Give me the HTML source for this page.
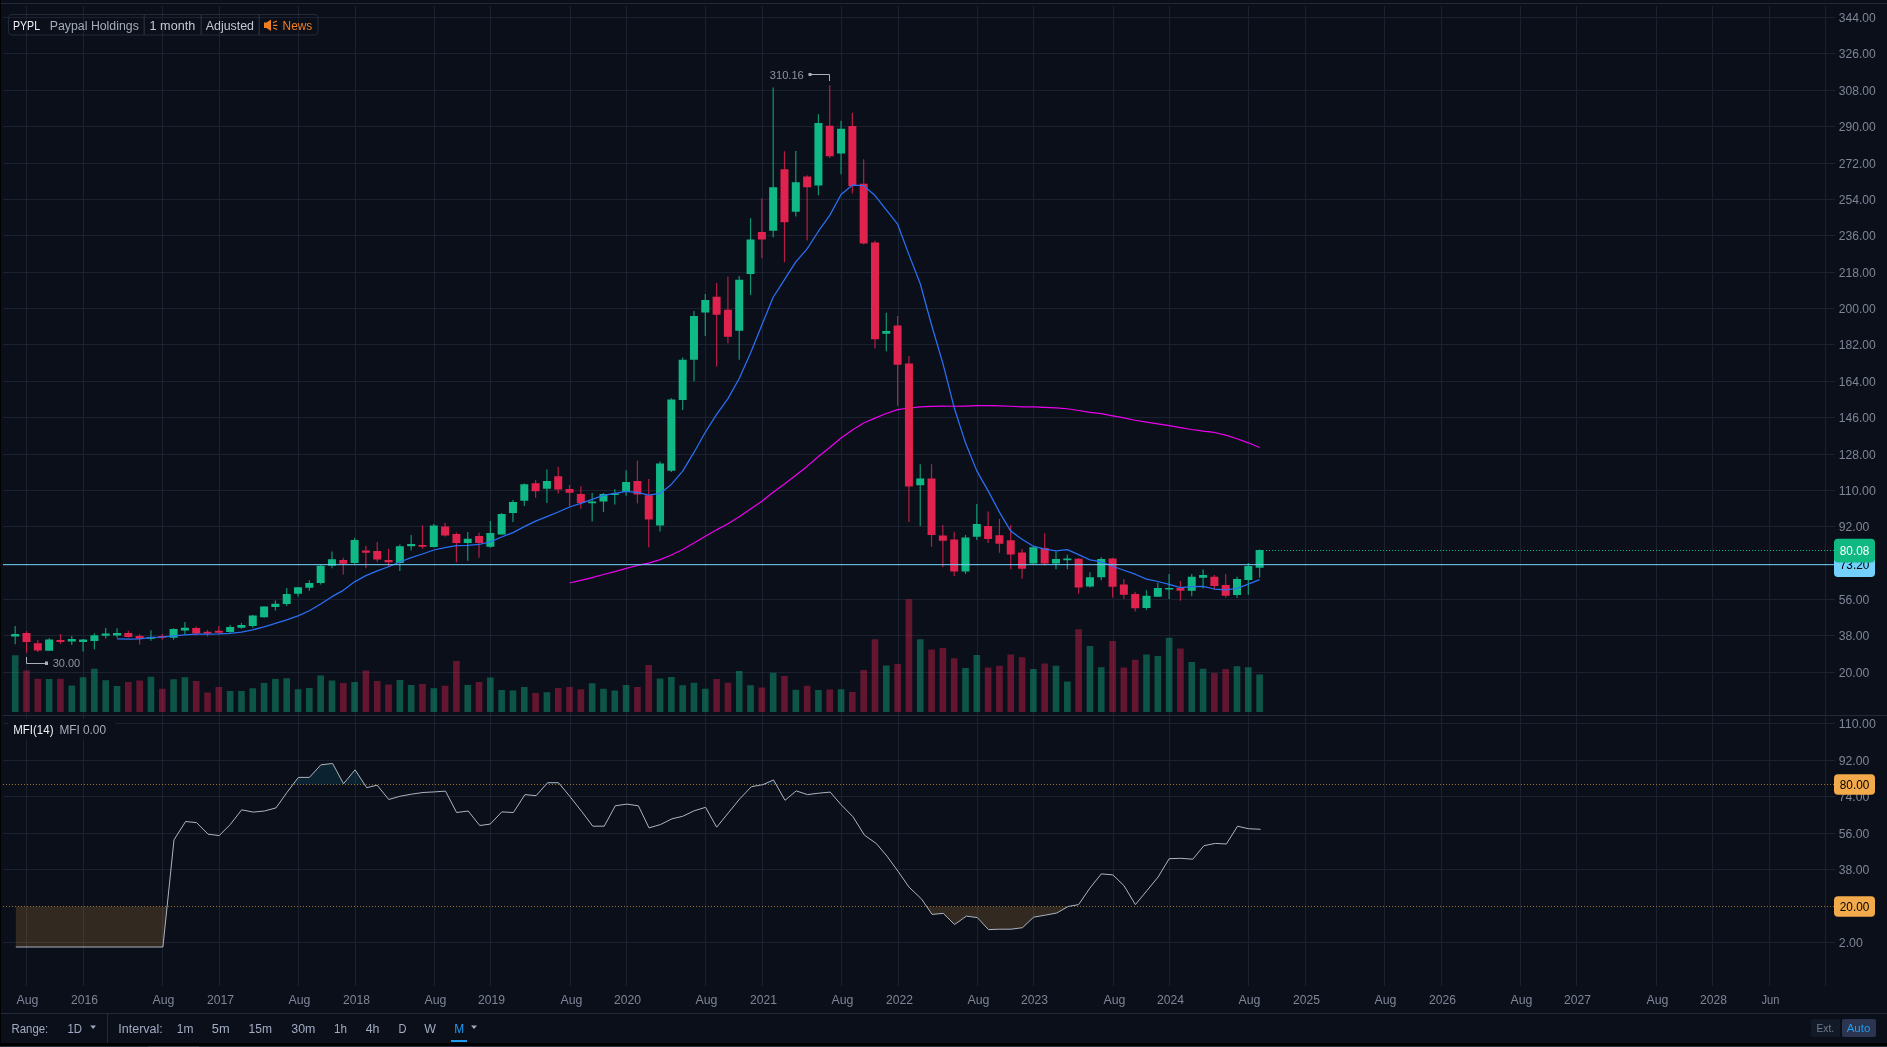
<!DOCTYPE html><html><head><meta charset="utf-8"><style>html,body{margin:0;padding:0;background:#0b0f1a;width:1887px;height:1047px;overflow:hidden}svg{display:block;will-change:transform}text{font-family:"Liberation Sans",sans-serif}</style></head><body>
<svg width="1887" height="1047" viewBox="0 0 1887 1047">
<rect x="0" y="0" width="1887" height="1047" fill="#0b0f1a"/>
<rect x="0" y="0" width="1" height="1047" fill="#000"/>
<rect x="1" y="3" width="1886" height="1" fill="#222a3a"/>
<path d="M3 17.5H1835 M3 53.5H1835 M3 90.5H1835 M3 126.5H1835 M3 163.5H1835 M3 199.5H1835 M3 235.5H1835 M3 272.5H1835 M3 308.5H1835 M3 344.5H1835 M3 381.5H1835 M3 417.5H1835 M3 454.5H1835 M3 490.5H1835 M3 526.5H1835 M3 599.5H1835 M3 635.5H1835 M3 672.5H1835 M3 723.5H1835 M3 760.5H1835 M3 796.5H1835 M3 833.5H1835 M3 869.5H1835 M3 942.5H1835 M26.5 6V986 M83.5 6V986 M162.5 6V986 M219.5 6V986 M298.5 6V986 M355.5 6V986 M434.5 6V986 M490.5 6V986 M570.5 6V986 M626.5 6V986 M705.5 6V986 M762.5 6V986 M841.5 6V986 M898.5 6V986 M977.5 6V986 M1033.5 6V986 M1113.5 6V986 M1169.5 6V986 M1248.5 6V986 M1305.5 6V986 M1384.5 6V986 M1441.5 6V986 M1520.5 6V986 M1576.5 6V986 M1656.5 6V986 M1712.5 6V986 M1769.5 6V986" stroke="#1b2130" stroke-width="1" fill="none"/>
<rect x="1825" y="6" width="1" height="980" fill="#1b2130"/>
<rect x="3" y="715" width="1884" height="1" fill="#222a3a"/>
<rect x="1" y="1013" width="1886" height="1" fill="#222a3a"/>
<rect x="107" y="1013" width="1" height="30" fill="#222a3a"/>
<rect x="0" y="1043" width="1887" height="3" fill="#000"/>
<rect x="0" y="1046" width="1887" height="1" fill="#283045"/>
<rect x="148" y="1046" width="51" height="1" fill="#3a4358"/>
<path d="M11.90 655.3H18.50V712H11.90Z M45.84 679.0H52.44V712H45.84Z M68.47 685.4H75.06V712H68.47Z M79.78 677.3H86.38V712H79.78Z M91.09 668.8H97.69V712H91.09Z M102.40 680.2H109.00V712H102.40Z M113.72 686.1H120.32V712H113.72Z M147.66 676.8H154.26V712H147.66Z M170.28 679.3H176.88V712H170.28Z M181.59 677.3H188.20V712H181.59Z M226.85 690.9H233.45V712H226.85Z M238.16 690.9H244.76V712H238.16Z M249.47 688.3H256.07V712H249.47Z M260.79 682.9H267.39V712H260.79Z M272.10 679.0H278.70V712H272.10Z M283.41 678.2H290.01V712H283.41Z M294.72 689.2H301.32V712H294.72Z M306.04 688.0H312.64V712H306.04Z M317.35 675.6H323.95V712H317.35Z M328.66 680.4H335.26V712H328.66Z M351.29 681.9H357.89V712H351.29Z M396.54 680.0H403.14V712H396.54Z M407.86 684.9H414.46V712H407.86Z M430.48 688.3H437.08V712H430.48Z M464.42 684.9H471.02V712H464.42Z M487.05 677.6H493.65V712H487.05Z M498.36 690.0H504.96V712H498.36Z M509.67 690.4H516.27V712H509.67Z M520.99 687.0H527.59V712H520.99Z M543.61 692.2H550.21V712H543.61Z M588.86 683.2H595.46V712H588.86Z M600.18 688.8H606.78V712H600.18Z M611.49 690.4H618.09V712H611.49Z M622.80 684.9H629.40V712H622.80Z M656.74 678.5H663.34V712H656.74Z M668.05 677.0H674.65V712H668.05Z M679.37 685.3H685.97V712H679.37Z M690.68 682.8H697.28V712H690.68Z M701.99 688.7H708.59V712H701.99Z M735.93 671.1H742.53V712H735.93Z M747.25 685.3H753.85V712H747.25Z M769.87 672.8H776.47V712H769.87Z M792.50 689.7H799.10V712H792.50Z M815.12 690.0H821.72V712H815.12Z M837.75 689.2H844.35V712H837.75Z M883.00 665.5H889.60V712H883.00Z M916.94 639.2H923.54V712H916.94Z M962.19 667.9H968.79V712H962.19Z M973.51 654.9H980.11V712H973.51Z M1030.07 669.0H1036.67V712H1030.07Z M1052.70 665.7H1059.30V712H1052.70Z M1064.01 681.4H1070.61V712H1064.01Z M1086.64 646.0H1093.24V712H1086.64Z M1097.95 667.2H1104.55V712H1097.95Z M1143.20 654.6H1149.80V712H1143.20Z M1154.51 655.9H1161.11V712H1154.51Z M1165.83 637.7H1172.43V712H1165.83Z M1188.45 662.0H1195.05V712H1188.45Z M1199.77 668.8H1206.37V712H1199.77Z M1233.70 666.2H1240.30V712H1233.70Z M1245.02 667.2H1251.62V712H1245.02Z M1256.33 674.4H1262.93V712H1256.33Z" fill="rgba(16,184,134,0.42)"/>
<path d="M23.21 670.5H29.81V712H23.21Z M34.53 678.7H41.13V712H34.53Z M57.15 678.7H63.75V712H57.15Z M125.03 682.1H131.63V712H125.03Z M136.34 680.4H142.94V712H136.34Z M158.97 688.7H165.57V712H158.97Z M192.91 681.0H199.51V712H192.91Z M204.22 692.6H210.82V712H204.22Z M215.53 687.0H222.13V712H215.53Z M339.98 682.9H346.58V712H339.98Z M362.60 670.5H369.20V712H362.60Z M373.92 681.0H380.52V712H373.92Z M385.23 684.4H391.83V712H385.23Z M419.17 684.1H425.77V712H419.17Z M441.79 685.8H448.39V712H441.79Z M453.11 660.9H459.71V712H453.11Z M475.73 682.1H482.33V712H475.73Z M532.30 693.1H538.90V712H532.30Z M554.92 688.0H561.52V712H554.92Z M566.24 687.0H572.84V712H566.24Z M577.55 689.2H584.15V712H577.55Z M634.12 687.0H640.72V712H634.12Z M645.43 665.0H652.03V712H645.43Z M713.31 679.0H719.91V712H713.31Z M724.62 682.8H731.22V712H724.62Z M758.56 687.5H765.16V712H758.56Z M781.18 676.0H787.78V712H781.18Z M803.81 685.8H810.41V712H803.81Z M826.44 689.5H833.04V712H826.44Z M849.06 692.1H855.66V712H849.06Z M860.38 670.0H866.98V712H860.38Z M871.69 639.2H878.29V712H871.69Z M894.31 664.1H900.91V712H894.31Z M905.63 599.3H912.23V712H905.63Z M928.25 649.4H934.85V712H928.25Z M939.57 648.1H946.17V712H939.57Z M950.88 658.3H957.48V712H950.88Z M984.82 667.4H991.42V712H984.82Z M996.13 665.7H1002.73V712H996.13Z M1007.44 654.4H1014.04V712H1007.44Z M1018.76 657.3H1025.36V712H1018.76Z M1041.38 663.5H1047.98V712H1041.38Z M1075.32 629.3H1081.92V712H1075.32Z M1109.26 641.0H1115.86V712H1109.26Z M1120.57 667.5H1127.17V712H1120.57Z M1131.89 659.7H1138.49V712H1131.89Z M1177.14 648.4H1183.74V712H1177.14Z M1211.08 673.1H1217.68V712H1211.08Z M1222.39 669.0H1228.99V712H1222.39Z" fill="rgba(224,34,78,0.42)"/>
<polyline points="569.54,583.01 580.85,580.39 592.16,577.59 603.48,574.46 614.79,571.55 626.10,568.35 637.42,565.46 648.73,563.06 660.04,559.63 671.35,554.95 682.67,549.48 693.98,543.06 705.29,536.29 716.61,529.85 727.92,523.83 739.23,516.85 750.55,509.08 761.86,501.20 773.17,492.28 784.48,484.07 795.80,475.17 807.11,466.42 818.42,456.57 829.74,447.56 841.05,438.07 852.36,429.91 863.68,423.03 874.99,418.15 886.30,413.46 897.61,409.57 908.93,408.03 920.24,406.80 931.55,406.45 942.87,406.07 954.18,406.26 965.49,406.08 976.81,405.68 988.12,405.53 999.43,405.89 1010.74,406.27 1022.06,406.78 1033.37,406.95 1044.68,407.36 1056.00,407.88 1067.31,408.77 1078.62,410.48 1089.94,412.34 1101.25,413.70 1112.56,415.81 1123.87,417.91 1135.19,420.22 1146.50,422.08 1157.81,423.80 1169.13,425.68 1180.44,427.63 1191.75,429.52 1203.07,431.13 1214.38,432.46 1225.69,435.10 1237.00,438.70 1248.32,442.82 1259.63,447.50" fill="none" stroke="#ee00f0" stroke-width="1.2" stroke-linejoin="round"/>
<path d="M14.60 626.0H15.80V644.3H14.60Z M48.54 638.2H49.74V650.8H48.54Z M71.17 635.9H72.36V645.1H71.17Z M82.48 639.0H83.68V651.6H82.48Z M93.79 633.2H94.99V649.3H93.79Z M105.10 627.9H106.30V638.6H105.10Z M116.42 628.3H117.62V637.8H116.42Z M150.36 630.2H151.56V640.7H150.36Z M172.98 628.3H174.18V639.8H172.98Z M184.30 622.1H185.50V634.5H184.30Z M229.55 624.9H230.75V633.5H229.55Z M240.86 623.0H242.06V628.8H240.86Z M252.17 614.9H253.37V627.8H252.17Z M263.49 606.3H264.69V617.8H263.49Z M274.80 600.6H276.00V610.6H274.80Z M286.11 588.0H287.31V606.0H286.11Z M297.42 586.9H298.62V596.4H297.42Z M308.74 580.2H309.94V590.7H308.74Z M320.05 564.9H321.25V584.5H320.05Z M331.36 551.5H332.56V568.2H331.36Z M353.99 537.7H355.19V563.9H353.99Z M399.24 544.4H400.44V571.1H399.24Z M410.56 535.1H411.76V550.6H410.56Z M433.18 524.0H434.38V547.4H433.18Z M467.12 531.9H468.32V560.8H467.12Z M489.75 521.0H490.95V547.7H489.75Z M501.06 513.0H502.26V534.8H501.06Z M512.37 500.1H513.57V522.1H512.37Z M523.69 483.4H524.89V505.9H523.69Z M546.31 469.6H547.51V503.0H546.31Z M591.56 493.1H592.76V521.4H591.56Z M602.88 493.1H604.08V512.0H602.88Z M614.19 489.2H615.39V504.6H614.19Z M625.50 470.3H626.70V495.7H625.50Z M659.44 461.5H660.64V531.4H659.44Z M670.75 398.3H671.95V471.9H670.75Z M682.07 357.6H683.27V409.9H682.07Z M693.38 311.1H694.58V381.2H693.38Z M704.69 293.9H705.89V336.1H704.69Z M738.63 275.9H739.83V359.8H738.63Z M749.95 218.2H751.15V295.0H749.95Z M772.57 87.5H773.77V237.2H772.57Z M795.20 151.0H796.40V216.6H795.20Z M817.82 114.3H819.02V195.2H817.82Z M840.45 120.7H841.65V174.2H840.45Z M885.70 312.8H886.90V351.2H885.70Z M919.64 464.2H920.84V526.3H919.64Z M964.89 535.0H966.09V574.0H964.89Z M976.21 504.0H977.41V540.0H976.21Z M1032.77 546.4H1033.97V563.9H1032.77Z M1055.40 551.6H1056.60V569.3H1055.40Z M1066.71 554.8H1067.91V569.3H1066.71Z M1089.34 572.2H1090.54V587.6H1089.34Z M1100.65 557.3H1101.85V580.2H1100.65Z M1145.90 590.2H1147.10V609.7H1145.90Z M1157.21 582.7H1158.41V597.1H1157.21Z M1168.53 574.1H1169.73V598.9H1168.53Z M1191.15 574.1H1192.35V596.2H1191.15Z M1202.47 569.2H1203.66V588.4H1202.47Z M1236.40 576.8H1237.60V597.7H1236.40Z M1247.72 562.9H1248.92V594.7H1247.72Z M1259.03 549.4H1260.23V577.6H1259.03Z" fill="#10b886" fill-opacity="0.8"/>
<path d="M11.20 634.0H19.20V636.5H11.20Z M45.14 639.4H53.14V650.8H45.14Z M67.77 639.0H75.77V641.6H67.77Z M79.08 639.4H87.08V641.9H79.08Z M90.39 635.2H98.39V640.9H90.39Z M101.70 633.6H109.70V635.8H101.70Z M113.02 632.9H121.02V635.5H113.02Z M146.96 636.9H154.96V638.8H146.96Z M169.58 629.0H177.58V637.8H169.58Z M180.90 627.8H188.90V630.5H180.90Z M226.15 626.9H234.15V632.1H226.15Z M237.46 624.9H245.46V627.8H237.46Z M248.77 615.4H256.77V625.9H248.77Z M260.09 606.6H268.09V617.3H260.09Z M271.40 603.7H279.40V607.0H271.40Z M282.71 594.0H290.71V603.9H282.71Z M294.02 587.3H302.02V593.7H294.02Z M305.34 583.0H313.34V587.8H305.34Z M316.65 565.7H324.65V583.0H316.65Z M327.96 559.2H335.96V565.8H327.96Z M350.59 539.9H358.59V563.0H350.59Z M395.84 546.3H403.84V563.0H395.84Z M407.16 544.1H415.16V546.3H407.16Z M429.78 525.5H437.78V546.9H429.78Z M463.72 538.8H471.72V543.1H463.72Z M486.35 533.1H494.35V546.8H486.35Z M497.66 514.0H505.66V534.5H497.66Z M508.97 502.1H516.97V513.0H508.97Z M520.29 484.2H528.29V500.8H520.29Z M542.91 481.0H550.91V488.7H542.91Z M588.16 501.4H596.16V503.2H588.16Z M599.48 494.1H607.48V501.5H599.48Z M610.79 493.4H618.79V495.1H610.79Z M622.10 482.0H630.10V491.5H622.10Z M656.04 463.6H664.04V525.6H656.04Z M667.35 399.4H675.35V470.8H667.35Z M678.67 359.8H686.67V400.0H678.67Z M689.98 315.9H697.98V359.8H689.98Z M701.29 300.1H709.29V312.6H701.29Z M735.23 279.7H743.23V330.8H735.23Z M746.55 239.5H754.55V273.9H746.55Z M769.17 187.2H777.17V230.8H769.17Z M791.80 182.2H799.80V211.7H791.80Z M814.42 123.0H822.42V185.4H814.42Z M837.05 128.8H845.05V153.5H837.05Z M882.30 331.0H890.30V333.7H882.30Z M916.24 478.6H924.24V485.3H916.24Z M961.49 537.5H969.49V571.6H961.49Z M972.81 523.9H980.81V536.8H972.81Z M1029.37 547.2H1037.37V563.6H1029.37Z M1052.00 559.0H1060.00V563.6H1052.00Z M1063.31 558.5H1071.31V560.3H1063.31Z M1085.94 577.3H1093.94V586.5H1085.94Z M1097.25 559.0H1105.25V577.3H1097.25Z M1142.50 595.8H1150.50V607.9H1142.50Z M1153.81 588.1H1161.81V596.7H1153.81Z M1165.13 588.1H1173.13V589.6H1165.13Z M1187.75 576.8H1195.75V590.8H1187.75Z M1199.07 575.0H1207.07V577.7H1199.07Z M1233.00 579.1H1241.00V594.9H1233.00Z M1244.32 566.0H1252.32V580.0H1244.32Z M1255.63 550.0H1263.63V567.8H1255.63Z" fill="#10b886"/>
<path d="M25.91 631.3H27.11V652.7H25.91Z M37.23 640.1H38.43V652.0H37.23Z M59.85 634.0H61.05V643.9H59.85Z M127.73 630.7H128.93V637.6H127.73Z M139.04 634.0H140.24V644.5H139.04Z M161.67 634.0H162.87V639.8H161.67Z M195.61 626.4H196.81V635.5H195.61Z M206.92 629.7H208.12V636.4H206.92Z M218.23 625.9H219.43V634.5H218.23Z M342.68 557.7H343.88V574.4H342.68Z M365.30 545.8H366.50V568.2H365.30Z M376.62 542.0H377.82V562.0H376.62Z M387.93 548.7H389.13V566.3H387.93Z M421.87 525.3H423.07V548.7H421.87Z M444.49 522.8H445.69V536.4H444.49Z M455.81 532.5H457.01V562.3H455.81Z M478.43 532.8H479.63V557.7H478.43Z M535.00 480.1H536.20V497.8H535.00Z M557.62 466.7H558.82V493.5H557.62Z M568.94 485.0H570.14V506.4H568.94Z M580.25 486.2H581.45V508.8H580.25Z M636.82 460.5H638.02V503.6H636.82Z M648.13 479.1H649.33V547.2H648.13Z M716.01 283.0H717.21V366.4H716.01Z M727.32 276.4H728.52V343.4H727.32Z M761.26 198.2H762.46V258.3H761.26Z M783.88 151.2H785.08V262.2H783.88Z M806.51 175.3H807.71V240.6H806.51Z M829.14 85.2H830.34V158.1H829.14Z M851.76 112.7H852.96V193.6H851.76Z M863.08 159.3H864.28V244.5H863.08Z M874.39 240.7H875.59V348.4H874.39Z M897.01 316.1H898.21V405.8H897.01Z M908.33 356.1H909.53V521.9H908.33Z M930.95 464.2H932.15V546.7H930.95Z M942.27 525.1H943.47V567.3H942.27Z M953.58 531.8H954.78V576.0H953.58Z M987.52 511.5H988.72V543.0H987.52Z M998.83 518.9H1000.03V552.7H998.83Z M1010.14 525.0H1011.34V569.3H1010.14Z M1021.46 549.0H1022.66V578.8H1021.46Z M1044.08 533.2H1045.28V565.5H1044.08Z M1078.02 557.9H1079.22V593.7H1078.02Z M1111.96 557.9H1113.16V597.4H1111.96Z M1123.27 579.1H1124.47V598.9H1123.27Z M1134.59 591.7H1135.79V611.5H1134.59Z M1179.84 580.9H1181.04V600.7H1179.84Z M1213.78 575.0H1214.98V589.9H1213.78Z M1225.09 574.1H1226.29V597.4H1225.09Z" fill="#e0224e" fill-opacity="0.8"/>
<path d="M22.51 632.9H30.51V642.0H22.51Z M33.83 643.2H41.83V650.4H33.83Z M56.45 640.1H64.45V642.0H56.45Z M124.33 633.1H132.33V636.9H124.33Z M135.64 635.9H143.64V638.8H135.64Z M158.27 635.9H166.27V637.6H158.27Z M192.21 628.0H200.21V633.5H192.21Z M203.52 631.8H211.52V633.4H203.52Z M214.83 630.7H222.83V632.8H214.83Z M339.28 560.1H347.28V563.7H339.28Z M361.90 550.4H369.90V552.7H361.90Z M373.22 551.0H381.22V559.6H373.22Z M384.53 560.1H392.53V562.2H384.53Z M418.47 545.0H426.47V546.7H418.47Z M441.09 526.4H449.09V535.5H441.09Z M452.41 533.9H460.41V543.1H452.41Z M475.03 535.9H483.03V543.1H475.03Z M531.60 483.2H539.60V491.3H531.60Z M554.22 476.3H562.22V489.6H554.22Z M565.54 489.0H573.54V492.8H565.54Z M576.85 494.1H584.85V503.0H576.85Z M633.42 481.0H641.42V494.6H633.42Z M644.73 495.2H652.73V519.6H644.73Z M712.61 296.8H720.61V314.8H712.61Z M723.92 309.8H731.92V336.8H723.92Z M757.86 231.9H765.86V239.5H757.86Z M780.48 169.3H788.48V222.3H780.48Z M803.11 176.4H811.11V187.2H803.11Z M825.74 125.8H833.74V156.3H825.74Z M848.36 126.0H856.36V186.1H848.36Z M859.68 183.8H867.68V243.4H859.68Z M870.99 242.5H878.99V339.2H870.99Z M893.61 325.5H901.61V364.8H893.61Z M904.93 363.6H912.93V486.6H904.93Z M927.55 478.4H935.55V535.0H927.55Z M938.87 535.5H946.87V540.7H938.87Z M950.18 539.5H958.18V571.6H950.18Z M984.12 526.1H992.12V539.0H984.12Z M995.43 535.3H1003.43V543.8H995.43Z M1006.74 540.3H1014.74V554.4H1006.74Z M1018.06 552.5H1026.06V568.7H1018.06Z M1040.68 548.1H1048.68V563.6H1040.68Z M1074.62 558.7H1082.62V587.6H1074.62Z M1108.56 558.4H1116.56V586.7H1108.56Z M1119.87 584.5H1127.87V594.7H1119.87Z M1131.19 594.0H1139.19V608.2H1131.19Z M1176.44 588.1H1184.44V590.8H1176.44Z M1210.38 576.7H1218.38V585.9H1210.38Z M1221.69 585.0H1229.69V595.8H1221.69Z" fill="#e0224e"/>
<polyline points="117.02,638.79 128.33,639.08 139.64,638.76 150.96,637.41 162.27,637.23 173.58,635.93 184.90,634.81 196.21,634.22 207.52,634.04 218.83,633.96 230.15,633.36 241.46,632.16 252.77,629.82 264.09,626.79 275.40,623.40 286.71,619.90 298.02,615.85 309.34,610.80 320.65,604.03 331.96,596.67 343.28,590.35 354.59,581.85 365.90,575.58 377.22,570.88 388.53,566.73 399.84,561.96 411.16,557.64 422.47,554.01 433.78,549.99 445.09,547.62 456.41,545.56 467.72,545.45 479.03,544.49 490.35,541.84 501.66,537.02 512.97,532.60 524.29,526.61 535.60,521.07 546.91,516.62 558.22,512.03 569.54,507.00 580.85,503.42 592.16,499.29 603.48,495.39 614.79,493.35 626.10,491.34 637.42,492.38 648.73,495.21 660.04,493.47 671.35,484.45 682.67,471.15 693.98,452.44 705.29,432.27 716.61,414.34 727.92,398.66 739.23,378.43 750.55,352.92 761.86,324.91 773.17,297.27 784.48,279.56 795.80,261.80 807.11,248.93 818.42,231.22 829.74,215.37 841.05,194.57 852.36,185.21 863.68,185.60 874.99,195.57 886.30,209.95 897.61,224.20 908.93,254.64 920.24,283.78 931.55,324.98 942.87,363.42 954.18,407.70 965.49,442.84 976.81,470.89 988.12,490.87 999.43,512.15 1010.74,531.11 1022.06,539.32 1033.37,546.18 1044.68,549.04 1056.00,550.87 1067.31,549.58 1078.62,554.59 1089.94,559.93 1101.25,561.93 1112.56,566.22 1123.87,570.25 1135.19,574.20 1146.50,579.06 1157.81,581.51 1169.13,584.42 1180.44,587.63 1191.75,586.55 1203.07,586.32 1214.38,589.01 1225.69,589.92 1237.00,588.36 1248.32,584.14 1259.63,579.56" fill="none" stroke="#2a70f5" stroke-width="1.25" stroke-linejoin="round"/>
<rect x="3" y="564" width="1831" height="1.2" fill="#72d2fd" opacity="0.85"/>
<line x1="1266" y1="550.5" x2="1834" y2="550.5" stroke="#10b886" stroke-width="1" stroke-dasharray="1 2"/>
<path d="M26.5 657V663.5H46" stroke="#a9afbb" stroke-width="1" fill="none"/><rect x="45" y="661.5" width="3" height="3.5" fill="#a9afbb"/>
<text x="52.7" y="667" font-size="11" fill="#8c93a1" textLength="27.5" lengthAdjust="spacingAndGlyphs">30.00</text>
<path d="M810 74.5H829.5V81" stroke="#a9afbb" stroke-width="1" fill="none"/><rect x="808.5" y="73" width="3" height="3" fill="#a9afbb"/>
<text x="769.8" y="79.3" font-size="11" fill="#8c93a1" textLength="34" lengthAdjust="spacingAndGlyphs">310.16</text>
<polygon points="15.80,906.50 15.80,947.00 162.90,947.00 167.09,906.50" fill="rgba(242,170,74,0.17)"/>
<polygon points="926.68,906.50 932.10,914.40 943.30,913.40 954.60,924.50 966.40,916.10 977.30,917.60 988.50,929.60 999.80,929.20 1010.90,929.20 1022.50,927.70 1033.60,917.20 1045.60,915.10 1056.80,913.00 1068.10,906.50" fill="rgba(242,170,74,0.17)"/>
<polygon points="292.99,784.50 298.40,777.40 309.40,777.40 320.90,764.80 332.60,763.50 343.50,783.70 355.10,769.80 364.63,784.50" fill="rgba(14,165,200,0.13)"/>
<polygon points="546.01,784.50 547.60,782.70 558.50,782.70 559.99,784.50" fill="rgba(14,165,200,0.13)"/>
<polygon points="763.22,784.50 773.50,779.90 776.09,784.50" fill="rgba(14,165,200,0.13)"/>
<line x1="3" y1="784.5" x2="1834" y2="784.5" stroke="#9a7235" stroke-width="1" stroke-dasharray="1 2"/>
<line x1="3" y1="906.5" x2="1834" y2="906.5" stroke="#9a7235" stroke-width="1" stroke-dasharray="1 2"/>
<polyline points="15.80,947.00 162.90,947.00 174.00,839.80 185.60,821.50 196.50,822.60 208.10,834.20 219.20,835.60 230.10,824.70 241.70,809.80 253.30,812.10 264.40,811.00 276.00,807.90 286.90,792.50 298.40,777.40 309.40,777.40 320.90,764.80 332.60,763.50 343.50,783.70 355.10,769.80 366.70,787.70 377.20,785.20 388.70,799.50 399.90,796.30 411.40,794.20 423.00,792.50 434.50,791.90 445.50,791.10 456.60,812.50 468.20,811.00 479.70,825.50 490.20,824.10 501.80,811.90 513.40,812.50 524.90,794.60 536.10,795.70 547.60,782.70 558.50,782.70 570.10,796.70 581.70,811.50 592.80,826.20 604.20,826.20 615.30,805.80 626.90,804.10 638.40,805.80 649.00,827.90 660.60,824.50 672.00,818.80 682.70,816.30 694.20,810.80 705.60,807.30 716.70,827.20 728.30,812.90 739.80,798.80 751.40,786.70 763.00,784.60 773.50,779.90 785.00,800.30 796.20,790.90 807.50,794.60 818.60,793.20 830.20,792.10 841.10,804.70 852.90,816.70 864.50,835.20 876.40,843.60 887.00,856.20 898.10,871.40 909.00,887.10 921.60,899.10 932.10,914.40 943.30,913.40 954.60,924.50 966.40,916.10 977.30,917.60 988.50,929.60 999.80,929.20 1010.90,929.20 1022.50,927.70 1033.60,917.20 1045.60,915.10 1056.80,913.00 1068.10,906.50 1078.60,904.60 1089.80,888.20 1101.30,873.90 1112.90,874.90 1124.00,885.70 1135.40,904.60 1146.90,890.70 1158.10,877.00 1169.20,858.70 1180.80,858.30 1192.80,859.20 1203.90,845.70 1215.40,843.40 1226.40,844.00 1237.50,826.20 1248.40,828.70 1260.60,829.30" fill="none" stroke="#aeb3bf" stroke-width="1" stroke-linejoin="round"/>
<text x="1838.8" y="22" font-size="12" fill="#7d8596" textLength="37" lengthAdjust="spacingAndGlyphs">344.00</text>
<text x="1838.8" y="58" font-size="12" fill="#7d8596" textLength="37" lengthAdjust="spacingAndGlyphs">326.00</text>
<text x="1838.8" y="95" font-size="12" fill="#7d8596" textLength="37" lengthAdjust="spacingAndGlyphs">308.00</text>
<text x="1838.8" y="131" font-size="12" fill="#7d8596" textLength="37" lengthAdjust="spacingAndGlyphs">290.00</text>
<text x="1838.8" y="168" font-size="12" fill="#7d8596" textLength="37" lengthAdjust="spacingAndGlyphs">272.00</text>
<text x="1838.8" y="204" font-size="12" fill="#7d8596" textLength="37" lengthAdjust="spacingAndGlyphs">254.00</text>
<text x="1838.8" y="240" font-size="12" fill="#7d8596" textLength="37" lengthAdjust="spacingAndGlyphs">236.00</text>
<text x="1838.8" y="277" font-size="12" fill="#7d8596" textLength="37" lengthAdjust="spacingAndGlyphs">218.00</text>
<text x="1838.8" y="313" font-size="12" fill="#7d8596" textLength="37" lengthAdjust="spacingAndGlyphs">200.00</text>
<text x="1838.8" y="349" font-size="12" fill="#7d8596" textLength="37" lengthAdjust="spacingAndGlyphs">182.00</text>
<text x="1838.8" y="386" font-size="12" fill="#7d8596" textLength="37" lengthAdjust="spacingAndGlyphs">164.00</text>
<text x="1838.8" y="422" font-size="12" fill="#7d8596" textLength="37" lengthAdjust="spacingAndGlyphs">146.00</text>
<text x="1838.8" y="459" font-size="12" fill="#7d8596" textLength="37" lengthAdjust="spacingAndGlyphs">128.00</text>
<text x="1838.8" y="495" font-size="12" fill="#7d8596" textLength="37" lengthAdjust="spacingAndGlyphs">110.00</text>
<text x="1838.8" y="531" font-size="12" fill="#7d8596" textLength="30.5" lengthAdjust="spacingAndGlyphs">92.00</text>
<text x="1838.8" y="567" font-size="12" fill="#7d8596" textLength="30.5" lengthAdjust="spacingAndGlyphs">74.00</text>
<text x="1838.8" y="604" font-size="12" fill="#7d8596" textLength="30.5" lengthAdjust="spacingAndGlyphs">56.00</text>
<text x="1838.8" y="640" font-size="12" fill="#7d8596" textLength="30.5" lengthAdjust="spacingAndGlyphs">38.00</text>
<text x="1838.8" y="677" font-size="12" fill="#7d8596" textLength="30.5" lengthAdjust="spacingAndGlyphs">20.00</text>
<text x="1838.8" y="728" font-size="12" fill="#7d8596" textLength="37" lengthAdjust="spacingAndGlyphs">110.00</text>
<text x="1838.8" y="765" font-size="12" fill="#7d8596" textLength="30.5" lengthAdjust="spacingAndGlyphs">92.00</text>
<text x="1838.8" y="801" font-size="12" fill="#7d8596" textLength="30.5" lengthAdjust="spacingAndGlyphs">74.00</text>
<text x="1838.8" y="838" font-size="12" fill="#7d8596" textLength="30.5" lengthAdjust="spacingAndGlyphs">56.00</text>
<text x="1838.8" y="874" font-size="12" fill="#7d8596" textLength="30.5" lengthAdjust="spacingAndGlyphs">38.00</text>
<text x="1838.8" y="947" font-size="12" fill="#7d8596" textLength="24" lengthAdjust="spacingAndGlyphs">2.00</text>
<rect x="1834" y="552" width="41" height="25" rx="4" fill="#72d2fd"/>
<text x="1839.8" y="568.9" font-size="12" fill="#000" textLength="29.5" lengthAdjust="spacingAndGlyphs">73.20</text>
<rect x="1834" y="538.8" width="41" height="23.600000000000023" rx="4" fill="#10b981"/>
<text x="1839.8" y="555.0" font-size="12" fill="#fff" textLength="29.5" lengthAdjust="spacingAndGlyphs">80.08</text>
<rect x="1834" y="774.2" width="41" height="20.59999999999991" rx="4" fill="#f2aa4a"/>
<text x="1839.8" y="788.9" font-size="12" fill="#000" textLength="29.5" lengthAdjust="spacingAndGlyphs">80.00</text>
<rect x="1834" y="896.2" width="41" height="20.59999999999991" rx="4" fill="#f2aa4a"/>
<text x="1839.8" y="910.9" font-size="12" fill="#000" textLength="29.5" lengthAdjust="spacingAndGlyphs">20.00</text>
<rect x="8.5" y="14.5" width="309.5" height="20.5" rx="3.5" fill="none" stroke="#222a3a" stroke-width="1"/>
<rect x="143.5" y="15" width="1.5" height="20" fill="#222a3a"/>
<rect x="200.5" y="15" width="1.5" height="20" fill="#222a3a"/>
<rect x="258.5" y="15" width="1.5" height="20" fill="#222a3a"/>
<text x="13" y="30" font-size="12" fill="#eef0f4" textLength="27" lengthAdjust="spacingAndGlyphs">PYPL</text>
<text x="49.8" y="30" font-size="12" fill="#a6adba" textLength="89" lengthAdjust="spacingAndGlyphs">Paypal Holdings</text>
<text x="149.6" y="30" font-size="12" fill="#c4c9d2" textLength="45.6" lengthAdjust="spacingAndGlyphs">1 month</text>
<text x="205.8" y="30" font-size="12" fill="#c4c9d2" textLength="48.2" lengthAdjust="spacingAndGlyphs">Adjusted</text>
<path d="M264 22.5H266.5L271 19.5V31L266.5 28H264Z" fill="#f07f22"/>
<path d="M273.5 22.5L276.5 21.2M273.5 25.3H277M273.5 28L276.5 29.3" stroke="#f07f22" stroke-width="1.2" stroke-linecap="round"/>
<text x="282.6" y="30" font-size="12" fill="#f07f22" textLength="29.7" lengthAdjust="spacingAndGlyphs">News</text>
<rect x="8" y="719" width="107" height="20" fill="#0b0f1a"/>
<text x="13.2" y="733.7" font-size="12" fill="#eef0f4" textLength="40.3" lengthAdjust="spacingAndGlyphs">MFI(14)</text>
<text x="59.4" y="733.7" font-size="12" fill="#a6adba" textLength="46.6" lengthAdjust="spacingAndGlyphs">MFI 0.00</text>
<text x="16.5" y="1004" font-size="12" fill="#7d8596" textLength="22" lengthAdjust="spacingAndGlyphs">Aug</text>
<text x="71.0" y="1004" font-size="12" fill="#7d8596" textLength="27" lengthAdjust="spacingAndGlyphs">2016</text>
<text x="152.5" y="1004" font-size="12" fill="#7d8596" textLength="22" lengthAdjust="spacingAndGlyphs">Aug</text>
<text x="207.0" y="1004" font-size="12" fill="#7d8596" textLength="27" lengthAdjust="spacingAndGlyphs">2017</text>
<text x="288.5" y="1004" font-size="12" fill="#7d8596" textLength="22" lengthAdjust="spacingAndGlyphs">Aug</text>
<text x="343.0" y="1004" font-size="12" fill="#7d8596" textLength="27" lengthAdjust="spacingAndGlyphs">2018</text>
<text x="424.5" y="1004" font-size="12" fill="#7d8596" textLength="22" lengthAdjust="spacingAndGlyphs">Aug</text>
<text x="478.0" y="1004" font-size="12" fill="#7d8596" textLength="27" lengthAdjust="spacingAndGlyphs">2019</text>
<text x="560.5" y="1004" font-size="12" fill="#7d8596" textLength="22" lengthAdjust="spacingAndGlyphs">Aug</text>
<text x="614.0" y="1004" font-size="12" fill="#7d8596" textLength="27" lengthAdjust="spacingAndGlyphs">2020</text>
<text x="695.5" y="1004" font-size="12" fill="#7d8596" textLength="22" lengthAdjust="spacingAndGlyphs">Aug</text>
<text x="750.0" y="1004" font-size="12" fill="#7d8596" textLength="27" lengthAdjust="spacingAndGlyphs">2021</text>
<text x="831.5" y="1004" font-size="12" fill="#7d8596" textLength="22" lengthAdjust="spacingAndGlyphs">Aug</text>
<text x="886.0" y="1004" font-size="12" fill="#7d8596" textLength="27" lengthAdjust="spacingAndGlyphs">2022</text>
<text x="967.5" y="1004" font-size="12" fill="#7d8596" textLength="22" lengthAdjust="spacingAndGlyphs">Aug</text>
<text x="1021.0" y="1004" font-size="12" fill="#7d8596" textLength="27" lengthAdjust="spacingAndGlyphs">2023</text>
<text x="1103.5" y="1004" font-size="12" fill="#7d8596" textLength="22" lengthAdjust="spacingAndGlyphs">Aug</text>
<text x="1157.0" y="1004" font-size="12" fill="#7d8596" textLength="27" lengthAdjust="spacingAndGlyphs">2024</text>
<text x="1238.5" y="1004" font-size="12" fill="#7d8596" textLength="22" lengthAdjust="spacingAndGlyphs">Aug</text>
<text x="1293.0" y="1004" font-size="12" fill="#7d8596" textLength="27" lengthAdjust="spacingAndGlyphs">2025</text>
<text x="1374.5" y="1004" font-size="12" fill="#7d8596" textLength="22" lengthAdjust="spacingAndGlyphs">Aug</text>
<text x="1429.0" y="1004" font-size="12" fill="#7d8596" textLength="27" lengthAdjust="spacingAndGlyphs">2026</text>
<text x="1510.5" y="1004" font-size="12" fill="#7d8596" textLength="22" lengthAdjust="spacingAndGlyphs">Aug</text>
<text x="1564.0" y="1004" font-size="12" fill="#7d8596" textLength="27" lengthAdjust="spacingAndGlyphs">2027</text>
<text x="1646.5" y="1004" font-size="12" fill="#7d8596" textLength="22" lengthAdjust="spacingAndGlyphs">Aug</text>
<text x="1700.0" y="1004" font-size="12" fill="#7d8596" textLength="27" lengthAdjust="spacingAndGlyphs">2028</text>
<text x="1761.5" y="1004" font-size="12" fill="#7d8596" textLength="18" lengthAdjust="spacingAndGlyphs">Jun</text>
<text x="11.5" y="1033" font-size="12" fill="#a2abc3" textLength="36.8" lengthAdjust="spacingAndGlyphs">Range:</text>
<text x="67.4" y="1033" font-size="12" fill="#a2abc3" textLength="14.6" lengthAdjust="spacingAndGlyphs">1D</text>
<path d="M90.3 1025.4H96L93.15 1029Z" fill="#a2abc3"/>
<text x="118.3" y="1033" font-size="12" fill="#a2abc3" textLength="44.5" lengthAdjust="spacingAndGlyphs">Interval:</text>
<text x="176.8" y="1033" font-size="12" fill="#a2abc3" textLength="16.6" lengthAdjust="spacingAndGlyphs">1m</text>
<text x="211.8" y="1033" font-size="12" fill="#a2abc3" textLength="17.8" lengthAdjust="spacingAndGlyphs">5m</text>
<text x="248.6" y="1033" font-size="12" fill="#a2abc3" textLength="23.4" lengthAdjust="spacingAndGlyphs">15m</text>
<text x="291.3" y="1033" font-size="12" fill="#a2abc3" textLength="24.1" lengthAdjust="spacingAndGlyphs">30m</text>
<text x="334" y="1033" font-size="12" fill="#a2abc3" textLength="13.0" lengthAdjust="spacingAndGlyphs">1h</text>
<text x="365.7" y="1033" font-size="12" fill="#a2abc3" textLength="13.8" lengthAdjust="spacingAndGlyphs">4h</text>
<text x="398.4" y="1033" font-size="12" fill="#a2abc3" textLength="8.0" lengthAdjust="spacingAndGlyphs">D</text>
<text x="424.3" y="1033" font-size="12" fill="#a2abc3" textLength="11.7" lengthAdjust="spacingAndGlyphs">W</text>
<text x="454.3" y="1033" font-size="12" fill="#1e9bf0" textLength="9.9" lengthAdjust="spacingAndGlyphs">M</text>
<path d="M471 1025.4H477L474 1029Z" fill="#a2abc3"/>
<rect x="451" y="1040" width="16" height="2" fill="#1e9bf0"/>
<rect x="1811" y="1019" width="29" height="18" rx="2" fill="#131a27"/>
<rect x="1842" y="1019" width="34" height="18" rx="2" fill="#2b3550"/>
<text x="1816.6" y="1032" font-size="11" fill="#737a89" textLength="17.4" lengthAdjust="spacingAndGlyphs">Ext.</text>
<text x="1846.7" y="1032" font-size="11" fill="#1e9bf0" textLength="23.6" lengthAdjust="spacingAndGlyphs">Auto</text>
</svg></body></html>
